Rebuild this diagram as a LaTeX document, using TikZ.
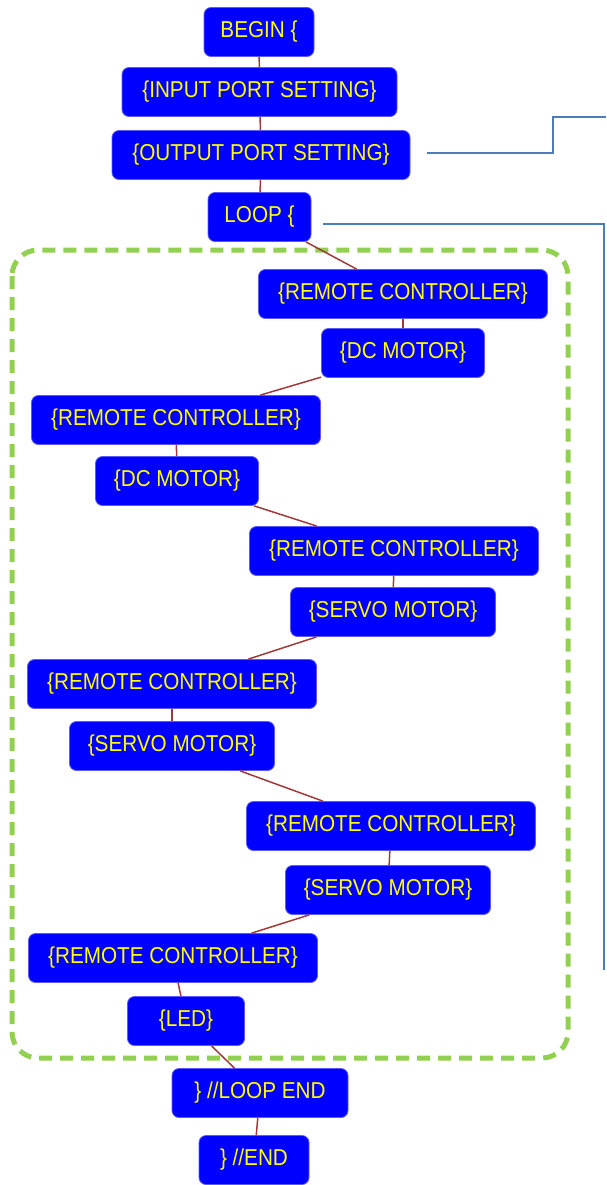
\documentclass[tikz,border=0pt]{standalone}
\usepackage{fontspec}
\newfontfamily\boxfont[FakeStretch=0.9]{Liberation Sans}
\definecolor{boxblue}{HTML}{0000FF}
\definecolor{boxedge}{HTML}{5A5AFF}
\definecolor{boxtext}{HTML}{FFFF00}
\definecolor{linkred}{HTML}{A03A3A}
\definecolor{loopgreen}{HTML}{92D050}
\definecolor{notebl}{HTML}{4A7EBB}
\begin{document}
\begin{tikzpicture}[x=1pt,y=-1pt,
  blk/.style={draw=boxedge, line width=0.8pt, fill=boxblue, rounded corners=7pt,
    text=boxtext, font=\boxfont\fontsize{23}{26}\selectfont,
    minimum height=49pt, inner xsep=12pt, inner ysep=0pt, minimum width=#1},
  blk/.default=10pt,
  link/.style={draw=linkred, line width=1.5pt},
  note/.style={draw=notebl, line width=2pt},
  loopbox/.style={draw=loopgreen, line width=5pt, dash pattern=on 13pt off 8pt, rounded corners=26pt}]
\useasboundingbox (0,0) rectangle (606,1185);

% loop body frame
\draw[loopbox] (12,250) rectangle (568,1058);

% program blocks
\node[blk=110pt] (b)   at (259,32)   {BEGIN \{};
\node[blk=275pt] (ips) at (259.5,92) {\{INPUT PORT SETTING\}};
\node[blk=298pt] (ops) at (261,155)  {\{OUTPUT PORT SETTING\}};
\node[blk=103pt] (lp)  at (259.5,217){LOOP \{};
\node[blk=289pt] (rc1) at (403,294)  {\{REMOTE CONTROLLER\}};
\node[blk=163pt] (dc1) at (403,353)  {\{DC MOTOR\}};
\node[blk=289pt] (rc2) at (176,420)  {\{REMOTE CONTROLLER\}};
\node[blk=163pt] (dc2) at (177,481)  {\{DC MOTOR\}};
\node[blk=289pt] (rc3) at (394,551)  {\{REMOTE CONTROLLER\}};
\node[blk=205pt] (sv1) at (393,612)  {\{SERVO MOTOR\}};
\node[blk=289pt] (rc4) at (172,684)  {\{REMOTE CONTROLLER\}};
\node[blk=205pt] (sv2) at (172,746)  {\{SERVO MOTOR\}};
\node[blk=289pt] (rc5) at (391,826)  {\{REMOTE CONTROLLER\}};
\node[blk=205pt] (sv3) at (388,890)  {\{SERVO MOTOR\}};
\node[blk=289pt] (rc6) at (173,958)  {\{REMOTE CONTROLLER\}};
\node[blk=117pt] (led) at (186,1021) {\{LED\}};
\node[blk=176pt] (le)  at (260,1093) {\} //LOOP END};
\node[blk=110pt] (en)  at (254,1160) {\} //END};

% sequence links
\foreach \a/\c in {b/ips,ips/ops,ops/lp,lp/rc1,rc1/dc1,dc1/rc2,rc2/dc2,dc2/rc3,rc3/sv1,sv1/rc4,rc4/sv2,sv2/rc5,rc5/sv3,sv3/rc6,rc6/led,led/le,le/en}
  \draw[link] (\a) -- (\c);

% side leaders
\coordinate (o1) at ([xshift=17pt,yshift=2pt]ops.east);
\coordinate (o2) at (553,117);
\coordinate (o3) at (606,117);
\draw[note] (o1) -- (o1 -| o2) -- (o2) -- (o3);
\coordinate (l1) at ([xshift=12pt,yshift=-7pt]lp.east);
\coordinate (l2) at (604,970);
\draw[note] (l1) -- (l1 -| l2) -- (l2);
\end{tikzpicture}
\end{document}
